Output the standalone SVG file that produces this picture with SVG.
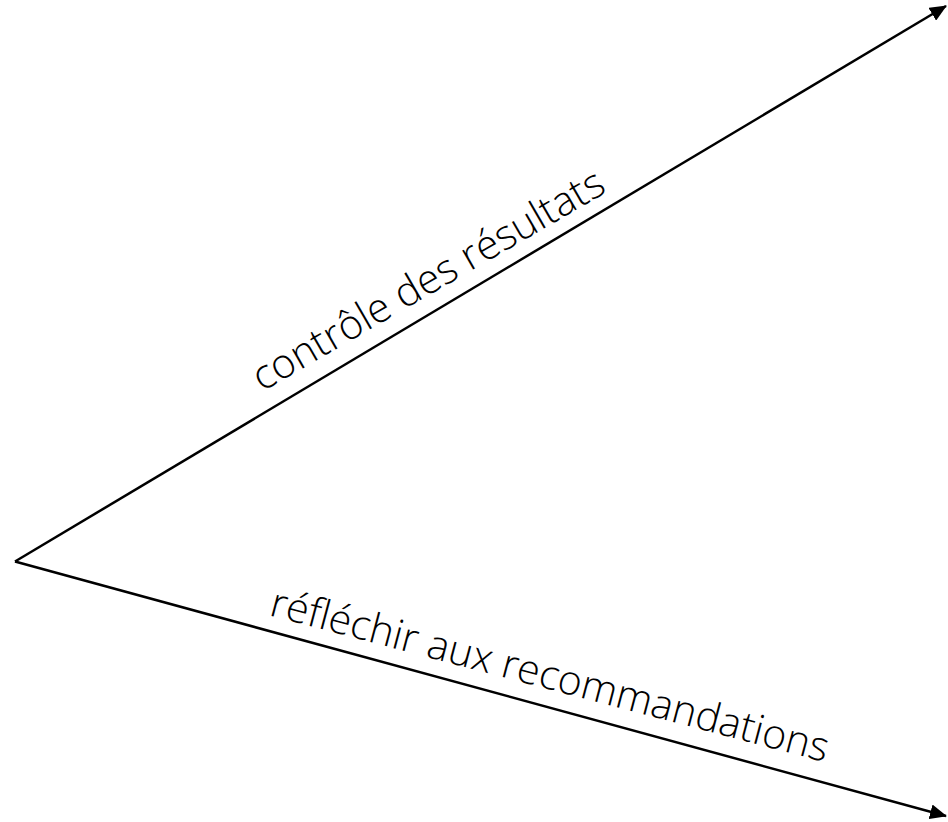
<svg xmlns="http://www.w3.org/2000/svg" width="948" height="822" viewBox="0 0 948 822">
<style>
.conn{fill:none;stroke:#000;stroke-width:2.5}
.lbl{font-family:"Open Sans","Noto Sans",sans-serif;font-weight:300;font-size:41px;fill:#000}
</style>
<defs>
<marker id="ah" markerUnits="userSpaceOnUse" markerWidth="17" markerHeight="15" refX="16" refY="7.5" orient="auto">
<path d="M0,0 L17,7.5 L0,15 z" fill="#000"/>
</marker>
</defs>
<rect width="948" height="822" fill="#fff"/>
<g id="connectors">
<line class="conn" x1="15" y1="561.5" x2="946" y2="6" marker-end="url(#ah)"/>
<line class="conn" x1="15" y1="561.5" x2="946" y2="816" marker-end="url(#ah)"/>
</g>
<g id="label-controle">
<text class="lbl" transform="translate(262,392) rotate(-30.1)">contrôle des résultats</text>
</g>
<g id="label-reflechir">
<text class="lbl" transform="translate(268,615) rotate(14.8)">réfléchir aux recommandations</text>
</g>
</svg>
